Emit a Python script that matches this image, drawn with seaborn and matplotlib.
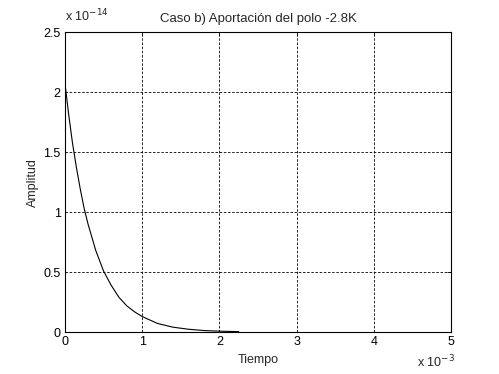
import matplotlib
matplotlib.use("Agg")
import matplotlib.pyplot as plt
import numpy as np
import pandas as pd
import seaborn as sns
from matplotlib.ticker import FuncFormatter

# values (time in s, amplitude)
tiempo = [0.0, 0.00005, 0.0001, 0.00015, 0.0002, 0.00025, 0.0003, 0.0004, 0.0005,
          0.0006, 0.0007, 0.0008, 0.0009, 0.001, 0.0012, 0.0014, 0.0016,
          0.0018, 0.002, 0.00225]
amplitud = [2.08e-14, 1.81e-14, 1.57e-14, 1.37e-14, 1.19e-14, 1.03e-14, 0.90e-14,
            0.68e-14, 0.51e-14, 0.39e-14, 0.29e-14, 0.22e-14, 0.17e-14, 0.13e-14,
            0.072e-14, 0.041e-14, 0.024e-14, 0.013e-14, 0.008e-14, 0.004e-14]

x_ticks = [0, 0.001, 0.002, 0.003, 0.004, 0.005]
y_ticks = [0, 0.5e-14, 1e-14, 1.5e-14, 2e-14, 2.5e-14]

df = pd.DataFrame({"Tiempo": tiempo, "Amplitud": amplitud})

sns.set_style("white")
plt.rcParams["font.family"] = ["Liberation Sans", "DejaVu Sans"]
fs = 9

fig = plt.figure(figsize=(4.99, 3.74), dpi=100)
ax = fig.add_axes([0.130, 0.112, 0.774, 0.802])

sns.lineplot(data=df, x="Tiempo", y="Amplitud", ax=ax, color="black", linewidth=0.8)

ax.set_xlim(0, 0.005)
ax.set_ylim(0, 2.5e-14)
ax.set_xticks(x_ticks)
ax.set_yticks(y_ticks)
ax.xaxis.set_major_formatter(FuncFormatter(lambda v, p: f"{v * 1e3:g}"))
ax.yaxis.set_major_formatter(FuncFormatter(lambda v, p: f"{v * 1e14:g}"))
ax.tick_params(direction="in", length=3, width=0.6, colors="black", labelsize=fs,
               top=True, right=True, pad=3)
ax.grid(True, color="black", linestyle=(0, (3, 2)), linewidth=0.6)
for s in ax.spines.values():
    s.set_color("black")
    s.set_linewidth(0.8)

ax.set_title("Caso b) Aportación del polo -2.8K", fontsize=9.5, pad=7)
ax.set_xlabel("Tiempo", fontsize=fs)
ax.set_ylabel("Amplitud", fontsize=fs)
ax.xaxis.set_label_coords(0.5, -0.072)
ax.yaxis.set_label_coords(-0.068, 0.5)

fig.text(0.131, 0.936, r"x 10$^{-14}$", fontsize=fs, ha="left", va="bottom")
fig.text(0.912, 0.010, r"x 10$^{-3}$", fontsize=fs, ha="right", va="bottom")

fig.savefig("out.png", dpi=100)
